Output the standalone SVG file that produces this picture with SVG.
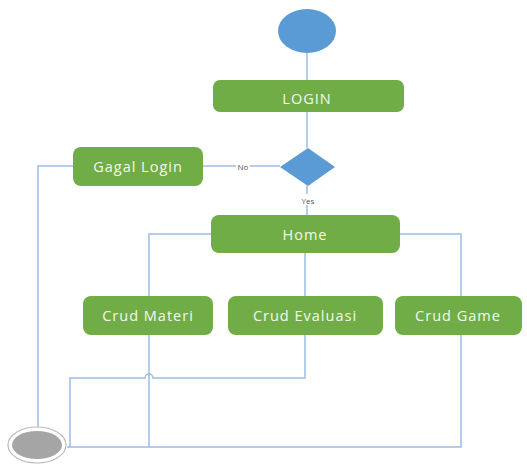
<svg xmlns="http://www.w3.org/2000/svg" width="527" height="465" viewBox="0 0 527 465">
<style>
.box{fill:#70AD47;}
.lbl{font-family:"Open Sans","Liberation Sans",sans-serif;font-size:14.5px;fill:#F4F8F0;text-anchor:middle;dominant-baseline:central;letter-spacing:1px;}
.edge{fill:none;stroke:#9DBDE3;stroke-width:1.5;}
.small{font-family:"Open Sans","Liberation Sans",sans-serif;font-size:8px;fill:#555;text-anchor:middle;dominant-baseline:central;}
</style>
<rect width="527" height="465" fill="#fff"/>
<g id="connectors">
<line class="edge" x1="307" y1="52" x2="307" y2="80"/>
<line class="edge" x1="307" y1="112" x2="307" y2="148"/>
<line class="edge" x1="203" y1="166" x2="280" y2="166"/>
<polyline class="edge" points="73,166 38,166 38,427"/>
<line class="edge" x1="307" y1="186" x2="307" y2="215"/>
<polyline class="edge" points="211,234 149,234 149,296"/>
<polyline class="edge" points="400,234 461,234 461,296"/>
<line class="edge" x1="305" y1="253" x2="305" y2="296"/>
<line class="edge" x1="149" y1="335" x2="149" y2="447"/>
<path class="edge" d="M305,335 V378 H153 A4,4 0 0 0 145,378 H70 V447"/>
<polyline class="edge" points="461,335 461,447 67,447"/>
<rect x="236" y="160" width="14" height="12" fill="#fff"/>
<text class="small" x="243" y="166">No</text>
<rect x="298" y="194" width="20" height="11" fill="#fff"/>
<text class="small" x="308" y="200">Yes</text>
</g>
<g id="start"><ellipse cx="307" cy="31" rx="29" ry="22" fill="#5B9BD5"/></g>
<g id="login"><rect class="box" x="213" y="80" width="191" height="32" rx="7"/><text class="lbl" x="307" y="98">LOGIN</text></g>
<g id="decision"><polygon points="308,148 335,167 308,186 280,167" fill="#5B9BD5"/></g>
<g id="gagal"><rect class="box" x="73" y="147" width="130" height="39" rx="8"/><text class="lbl" x="138" y="166">Gagal Login</text></g>
<g id="home"><rect class="box" x="211" y="215" width="189" height="38" rx="8"/><text class="lbl" x="305" y="234">Home</text></g>
<g id="materi"><rect class="box" x="83" y="296" width="130" height="39" rx="8"/><text class="lbl" x="148" y="315">Crud Materi</text></g>
<g id="evaluasi"><rect class="box" x="228" y="296" width="155" height="39" rx="8"/><text class="lbl" x="305" y="315">Crud Evaluasi</text></g>
<g id="game"><rect class="box" x="395" y="296" width="127" height="39" rx="8"/><text class="lbl" x="458" y="315">Crud Game</text></g>
<g id="end"><ellipse cx="37" cy="445" rx="29" ry="18" fill="#fff" stroke="#BBBBBB" stroke-width="1.2"/><ellipse cx="37" cy="445" rx="25" ry="14" fill="#A5A5A5"/></g>
</svg>
